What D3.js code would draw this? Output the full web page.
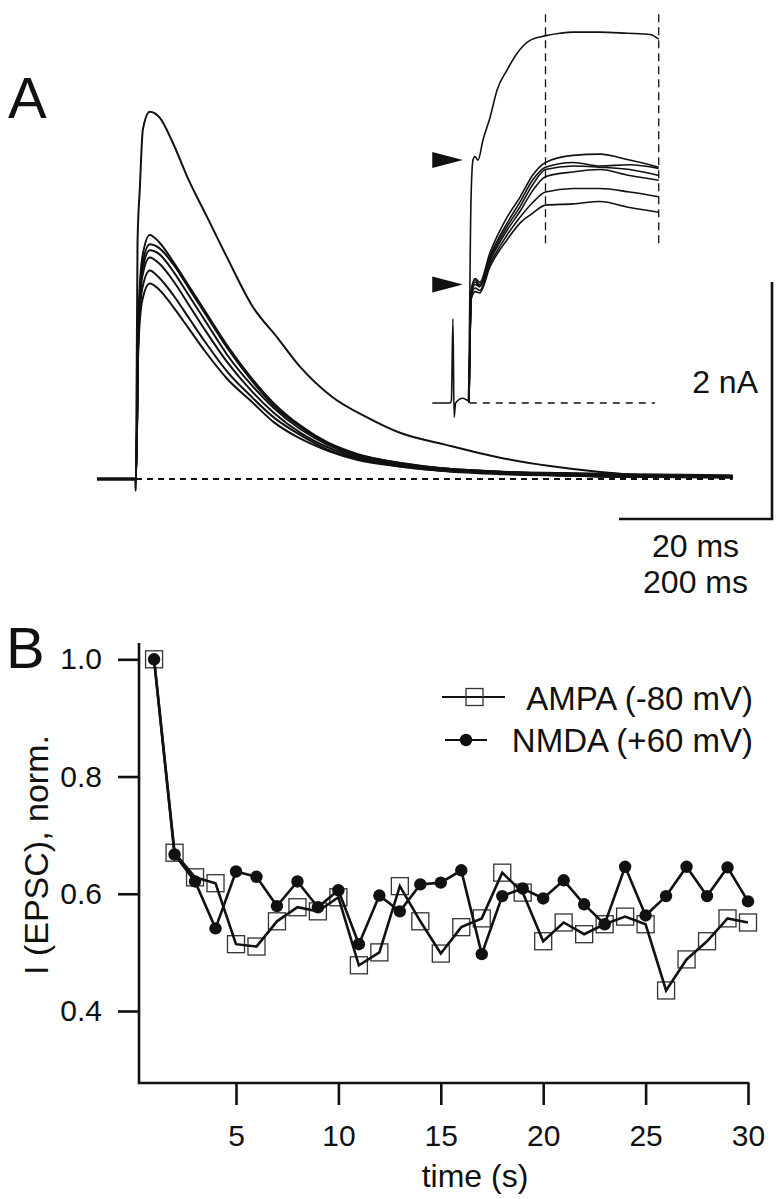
<!DOCTYPE html>
<html><head><meta charset="utf-8">
<script src="https://cdn.jsdelivr.net/npm/d3@7"></script>
<style>
body{margin:0;background:#fff}
svg{display:block}
text{font-family:"Liberation Sans",Arial,Helvetica,sans-serif;fill:#111}
</style>
</head><body>
<svg id="c" width="782" height="1199"></svg>
<script>
// ---------- Panel B data ----------
const timeS = [1,2,3,4,5,6,7,8,9,10,11,12,13,14,15,16,17,18,19,20,21,22,23,24,25,26,27,28,29,30];
const ampa = [1.0,0.670,0.628,0.618,0.514,0.510,0.553,0.577,0.570,0.594,0.478,0.500,0.613,0.553,0.498,0.543,0.558,0.636,0.602,0.519,0.551,0.531,0.548,0.561,0.548,0.435,0.488,0.519,0.558,0.551];
const nmda = [1.0,0.667,0.621,0.541,0.638,0.629,0.579,0.621,0.577,0.606,0.514,0.597,0.570,0.616,0.619,0.640,0.497,0.596,0.609,0.592,0.623,0.582,0.548,0.646,0.563,0.596,0.646,0.596,0.645,0.587];
const xTicks = [5,10,15,20,25,30];
const yTicks = [0.4,0.6,0.8,1.0];
const yTickLabels = ["0.4","0.6","0.8","1.0"];
const legendLabels = ["AMPA (-80 mV)","NMDA (+60 mV)"];

// ---------- Panel A data (time in ms, current in nA) ----------
const bigT = [-51,-1,-0.4,0,2,5,9,18,31,48,67,93,119,153,184,214,257,302,345,404,476,541,607,672,780];
const bigI = [0,0,-0.1,0,2.0,2.45,2.95,3.10,3.05,2.84,2.55,2.21,1.87,1.45,1.20,0.95,0.69,0.52,0.39,0.29,0.18,0.11,0.06,0.03,0.02];
const smallT = [-51,-1,0,3,8,18,30,50,70,90,120,150,180,215,250,290,340,400,480,560,650,780];
const small1 = [0,0,0,1.30,1.86,2.06,2.00,1.82,1.62,1.42,1.12,0.86,0.64,0.45,0.31,0.21,0.14,0.09,0.06,0.04,0.03,0.02];
const small2 = [0,0,0,1.25,1.80,1.98,1.95,1.80,1.60,1.40,1.10,0.84,0.62,0.44,0.30,0.20,0.13,0.09,0.06,0.04,0.03,0.02];
const small3 = [0,0,0,1.20,1.75,1.93,1.90,1.74,1.54,1.34,1.04,0.80,0.60,0.42,0.29,0.19,0.13,0.08,0.05,0.04,0.03,0.02];
const small4 = [0,0,0,1.20,1.70,1.87,1.82,1.66,1.46,1.26,0.98,0.75,0.56,0.39,0.27,0.18,0.12,0.08,0.05,0.03,0.02,0.02];
const small5 = [0,0,0,1.15,1.60,1.76,1.70,1.54,1.35,1.16,0.90,0.70,0.52,0.37,0.25,0.17,0.11,0.07,0.05,0.03,0.02,0.02];
const small6 = [0,0,0,1.10,1.50,1.65,1.60,1.44,1.26,1.08,0.84,0.66,0.48,0.34,0.24,0.16,0.11,0.07,0.05,0.03,0.02,0.02];

// inset (expanded time base)
const insetBigT = [-4.8,-2.5,-2.3,-2.1,-1.95,-1.75,-0.8,-0.1,0.26,0.52,0.78,1.18,1.83,2.75,3.66,4.97,6.27,7.97,10.07,11.9,13.6,17.1,20.7,23.7,24.8];
const insetBigI = [0,0,0.02,0.71,-0.12,0,0.04,0.02,1.71,2.05,2.08,2.05,2.22,2.41,2.64,2.81,2.95,3.06,3.10,3.12,3.13,3.13,3.12,3.11,3.07];
const insetT = [0,0.3,0.8,1.4,2.75,5.0,6.7,8.3,10,13.6,17.1,21,24.8];
const inset1 = [0,0.95,1.05,1.02,1.27,1.57,1.74,1.92,2.03,2.09,2.10,2.05,1.99];
const inset2 = [0,0.95,1.04,1.00,1.24,1.52,1.70,1.88,1.99,2.03,2.00,2.01,1.98];
const inset3 = [0,0.93,1.02,0.99,1.22,1.49,1.66,1.84,1.97,2.00,1.99,1.97,1.92];
const inset4 = [0,0.92,1.00,0.98,1.20,1.46,1.62,1.79,1.91,1.95,1.97,1.92,1.88];
const inset5 = [0,0.90,0.97,0.95,1.17,1.42,1.57,1.69,1.78,1.81,1.81,1.78,1.74];
const inset6 = [0,0.88,0.94,0.93,1.15,1.38,1.52,1.60,1.67,1.68,1.70,1.65,1.61];
const arrowLevels = [2.05, 1.0];          // nA
const insetMarkTimes = [10, 24.8];        // ms
const insetMarkRange = [1.31, 3.28];      // nA
const scaleBarLabels = ["2 nA","20 ms","200 ms"];

// ---------- drawing ----------
const svg = d3.select("#c");
const K = "#111";

// Panel labels
svg.append("text").attr("x",8).attr("y",118).attr("font-size",58).text("A");
svg.append("text").attr("x",6).attr("y",668).attr("font-size",58).text("B");

// ----- Panel A main traces -----
const xA = d3.scaleLinear().domain([0,200]).range([136,289]);
const yA = d3.scaleLinear().domain([0,2]).range([479,242]);
const lineA = d3.line().x(d=>xA(d[0])).y(d=>yA(d[1])).curve(d3.curveMonotoneX);

// baseline dashed
svg.append("line").attr("x1",xA(0)).attr("x2",xA(780)).attr("y1",yA(0)).attr("y2",yA(0))
  .attr("stroke",K).attr("stroke-width",2.2).attr("stroke-dasharray","6,5");

const smalls = [small1,small2,small3,small4,small5,small6];
smalls.forEach(s=>{
  svg.append("path").attr("d",lineA(smallT.map((t,i)=>[t,s[i]])))
    .attr("fill","none").attr("stroke",K).attr("stroke-width",2);
});
svg.append("path").attr("d",lineA(bigT.map((t,i)=>[t,bigI[i]])))
  .attr("fill","none").attr("stroke",K).attr("stroke-width",2);
// pre-stimulus noisy baseline thickness
svg.append("line").attr("x1",xA(-51)).attr("x2",xA(0)).attr("y1",yA(0)).attr("y2",yA(0))
  .attr("stroke",K).attr("stroke-width",3.5);
// thick noisy tail band
svg.append("path").attr("d",lineA(smallT.slice(15).map((t,i)=>[t,small3[i+15]])))
  .attr("fill","none").attr("stroke",K).attr("stroke-width",4.5);

// ----- Inset -----
const xI = d3.scaleLinear().domain([0,20]).range([469,622]);
const yI = d3.scaleLinear().domain([0,2]).range([403,166]);
const lineI = d3.line().x(d=>xI(d[0])).y(d=>yI(d[1])).curve(d3.curveMonotoneX);

svg.append("line").attr("x1",xI(0.1)).attr("x2",xI(24.3)).attr("y1",yI(0)).attr("y2",yI(0))
  .attr("stroke",K).attr("stroke-width",1.3).attr("stroke-dasharray","7,6");
insetMarkTimes.forEach(t=>{
  svg.append("line").attr("x1",xI(t)).attr("x2",xI(t)).attr("y1",yI(insetMarkRange[1])).attr("y2",yI(insetMarkRange[0]))
    .attr("stroke",K).attr("stroke-width",1.3).attr("stroke-dasharray","8,5");
});
[inset1,inset2,inset3,inset4,inset5,inset6].forEach(s=>{
  svg.append("path").attr("d",lineI(insetT.map((t,i)=>[t,s[i]])))
    .attr("fill","none").attr("stroke",K).attr("stroke-width",1.6);
});
svg.append("path").attr("d",lineI(insetBigT.map((t,i)=>[t,insetBigI[i]])))
  .attr("fill","none").attr("stroke",K).attr("stroke-width",1.6);
// arrowheads
arrowLevels.forEach(v=>{
  const y = yI(v), x0 = xI(-4.8), x1 = xI(-0.8);
  svg.append("path").attr("d",`M${x0},${y-8}L${x1},${y}L${x0},${y+8}Z`).attr("fill",K);
});

// ----- Scale bar -----
const barX = 772, barY = 519;
const barH = yA(0)-yA(2);      // 2 nA
const barW = xA(200)-xA(0);    // 200 ms (main) / 20 ms (inset)
svg.append("path").attr("d",`M${barX-barW},${barY}H${barX}V${barY-barH}`)
  .attr("fill","none").attr("stroke",K).attr("stroke-width",2.6);
svg.append("text").attr("x",758).attr("y",393).attr("text-anchor","end").attr("font-size",32).text(scaleBarLabels[0]);
svg.append("text").attr("x",barX-barW/2).attr("y",557).attr("text-anchor","middle").attr("font-size",32).text(scaleBarLabels[1]);
svg.append("text").attr("x",barX-barW/2).attr("y",593).attr("text-anchor","middle").attr("font-size",32).text(scaleBarLabels[2]);

// ----- Panel B -----
const x = d3.scaleLinear().domain([5,30]).range([236,748]);
const y = d3.scaleLinear().domain([0.4,1.0]).range([1011,659.3]);
const axisL = 139, axisB = 1083;

const gy = svg.append("g").attr("transform",`translate(${axisL},0)`)
  .call(d3.axisLeft(y).tickValues(yTicks).tickFormat((d,i)=>yTickLabels[i]).tickSize(21).tickPadding(16));
const gx = svg.append("g").attr("transform",`translate(0,${axisB})`)
  .call(d3.axisBottom(x).tickValues(xTicks).tickSize(22).tickPadding(20));
[gx,gy].forEach(g=>{
  g.select(".domain").remove();
  g.selectAll(".tick line").attr("stroke",K).attr("stroke-width",2.6);
  g.selectAll(".tick text").attr("font-size",30).attr("fill",K)
    .style("font-family",'"Liberation Sans",Arial,Helvetica,sans-serif');
});
svg.append("path").attr("d",`M${axisL},643V${axisB}H${x(30)+1.3}`)
  .attr("fill","none").attr("stroke",K).attr("stroke-width",2.6);

svg.append("text").attr("x",x(17.5)-17).attr("y",1187).attr("text-anchor","middle").attr("font-size",32).text("time (s)");
svg.append("text").attr("transform","translate(48,855) rotate(-90)").attr("text-anchor","middle")
  .attr("font-size",34).text("I (EPSC), norm.");

const line = d3.line().x((d,i)=>x(timeS[i])).y(d=>y(d));
// squares
svg.append("g").selectAll("rect").data(ampa).join("rect")
  .attr("x",(d,i)=>x(timeS[i])-8.5).attr("y",d=>y(d)-8.5).attr("width",17).attr("height",17)
  .attr("fill","none").attr("stroke","#333").attr("stroke-width",1.3);
svg.append("path").attr("d",line(ampa)).attr("fill","none").attr("stroke",K).attr("stroke-width",2.6);
svg.append("path").attr("d",line(nmda)).attr("fill","none").attr("stroke",K).attr("stroke-width",2.6);
svg.append("g").selectAll("circle").data(nmda).join("circle")
  .attr("cx",(d,i)=>x(timeS[i])).attr("cy",d=>y(d)).attr("r",6.2).attr("fill",K);

// legend
svg.append("line").attr("x1",442).attr("x2",505).attr("y1",697).attr("y2",697).attr("stroke",K).attr("stroke-width",2);
svg.append("rect").attr("x",466).attr("y",688.5).attr("width",17).attr("height",17).attr("fill","none").attr("stroke","#333").attr("stroke-width",1.3);
svg.append("line").attr("x1",445).attr("x2",487).attr("y1",740).attr("y2",740).attr("stroke",K).attr("stroke-width",2);
svg.append("circle").attr("cx",466).attr("cy",740).attr("r",6.2).attr("fill",K);
svg.append("text").attr("x",753).attr("y",710).attr("text-anchor","end").attr("font-size",33).text(legendLabels[0]);
svg.append("text").attr("x",753).attr("y",752).attr("text-anchor","end").attr("font-size",33).text(legendLabels[1]);
</script>
</body></html>
